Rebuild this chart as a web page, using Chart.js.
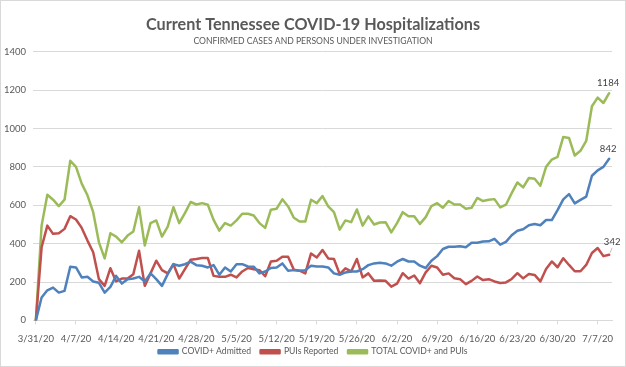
<!DOCTYPE html>
<html>
<head>
<meta charset="utf-8">
<script src="https://cdn.jsdelivr.net/npm/chart.js@4"></script>
<style>
  body { margin: 0; background: #fff; }
  #wrap { width: 624px; height: 365px; border: 1px solid #d9d9d9; position: relative; }
</style>
</head>
<body>
<div id="wrap"><canvas id="chart"></canvas></div>
<script>
// days from 3/31/20 to 7/9/20
const dates = ['3/31/20',
  '4/1/20','4/2/20','4/3/20','4/4/20','4/5/20','4/6/20','4/7/20','4/8/20','4/9/20','4/10/20',
  '4/11/20','4/12/20','4/13/20','4/14/20','4/15/20','4/16/20','4/17/20','4/18/20','4/19/20','4/20/20',
  '4/21/20','4/22/20','4/23/20','4/24/20','4/25/20','4/26/20','4/27/20','4/28/20','4/29/20','4/30/20',
  '5/1/20','5/2/20','5/3/20','5/4/20','5/5/20','5/6/20','5/7/20','5/8/20','5/9/20','5/10/20',
  '5/11/20','5/12/20','5/13/20','5/14/20','5/15/20','5/16/20','5/17/20','5/18/20','5/19/20','5/20/20',
  '5/21/20','5/22/20','5/23/20','5/24/20','5/25/20','5/26/20','5/27/20','5/28/20','5/29/20','5/30/20','5/31/20',
  '6/1/20','6/2/20','6/3/20','6/4/20','6/5/20','6/6/20','6/7/20','6/8/20','6/9/20','6/10/20',
  '6/11/20','6/12/20','6/13/20','6/14/20','6/15/20','6/16/20','6/17/20','6/18/20','6/19/20','6/20/20',
  '6/21/20','6/22/20','6/23/20','6/24/20','6/25/20','6/26/20','6/27/20','6/28/20','6/29/20','6/30/20',
  '7/1/20','7/2/20','7/3/20','7/4/20','7/5/20','7/6/20','7/7/20','7/8/20','7/9/20'];

const admitted = [0,119,157,171,145,154,280,276,224,227,
  203,196,145,175,232,192,215,218,227,203,
  245,215,180,241,293,285,293,306,288,285,
  276,288,238,276,255,293,293,281,280,245,
  255,273,276,297,259,262,259,262,285,281,
  281,276,245,238,250,255,255,267,288,297,
  300,297,285,306,320,307,307,285,273,311,
  335,372,384,384,386,381,405,405,411,412,
  425,395,409,444,467,475,496,502,496,523,
  523,575,631,658,610,628,645,754,782,800,842];

const puis = [0,381,494,451,454,477,543,526,482,416,
  355,215,180,272,203,218,218,241,363,180,
  245,311,262,245,293,218,267,316,320,325,
  325,232,227,227,238,224,255,273,267,262,
  230,307,311,332,332,264,259,245,349,328,
  367,323,320,241,271,255,320,224,245,206,
  208,206,176,192,246,218,234,194,250,285,
  276,238,245,220,215,189,206,229,210,215,
  203,195,198,216,246,219,242,237,203,268,
  307,277,324,289,256,256,289,351,377,335,342];

const total = [0,494,655,629,596,629,832,800,713,652,
  564,407,323,454,437,407,442,463,590,390,
  507,521,437,489,590,507,559,617,604,611,
  603,524,468,507,494,521,556,556,547,507,
  482,577,582,631,594,535,515,515,629,611,
  648,594,564,473,521,512,578,494,542,500,
  510,512,459,507,564,543,543,503,538,596,
  611,587,622,604,604,582,587,638,622,629,
  632,589,603,663,719,693,742,738,702,800,
  838,852,956,951,859,884,935,1116,1161,1133,1184];

const yTicks = [0, 200, 400, 600, 800, 1000, 1200, 1400];

const FONT = 'Lato, "Open Sans", sans-serif';
const GREY = '#595959';

// label on the last point of each line
const endLabels = {
  id: 'endLabels',
  afterDatasetsDraw(chart) {
    const ctx = chart.ctx;
    ctx.save();
    ctx.font = '9.5px ' + FONT;
    ctx.fillStyle = '#404040';
    ctx.textAlign = 'center';
    ctx.textBaseline = 'middle';
    chart.data.datasets.forEach((ds, i) => {
      const meta = chart.getDatasetMeta(i);
      const pt = meta.data[meta.data.length - 1];
      const val = ds.data[ds.data.length - 1];
      if (i === 1) {
        ctx.strokeStyle = '#bfbfbf';
        ctx.lineWidth = 1;
        ctx.beginPath();
        ctx.moveTo(pt.x + 1, pt.y - 2);
        ctx.lineTo(pt.x + 3, pt.y - 7);
        ctx.stroke();
        ctx.fillText(val, pt.x + 3, pt.y - 13);
      } else {
        ctx.fillText(val, pt.x - 1, pt.y - 10);
      }
    });
    ctx.restore();
  }
};

new Chart(document.getElementById('chart'), {
  type: 'line',
  data: {
    labels: dates,
    datasets: [
      { label: 'COVID+ Admitted', data: admitted, borderColor: '#4F81BD', backgroundColor: '#4F81BD' },
      { label: 'PUIs Reported', data: puis, borderColor: '#C0504D', backgroundColor: '#C0504D' },
      { label: 'TOTAL COVID+ and PUIs', data: total, borderColor: '#9BBB59', backgroundColor: '#9BBB59' }
    ]
  },
  options: {
    responsive: true,
    maintainAspectRatio: false,
    animation: false,
    layout: { padding: 0 },
    elements: {
      line: { borderWidth: 2.5, tension: 0, borderCapStyle: 'round', borderJoinStyle: 'round' },
      point: { radius: 0 }
    },
    plugins: {
      title: {
        display: true,
        text: 'Current Tennessee COVID-19 Hospitalizations',
        color: GREY,
        font: { family: FONT, size: 16.2, weight: 'bold' },
        padding: { top: 14, bottom: 2 }
      },
      subtitle: {
        display: true,
        text: 'CONFIRMED CASES AND PERSONS UNDER INVESTIGATION',
        color: GREY,
        font: { family: FONT, size: 8.6 },
        padding: { bottom: 5 }
      },
      legend: {
        position: 'bottom',
        labels: {
          color: GREY,
          font: { family: FONT, size: 8.6 },
          boxWidth: 19,
          boxHeight: 3,
          padding: 3,
          // extra room between items, like the reference
          generateLabels: (chart) => {
            const items = Chart.defaults.plugins.legend.labels.generateLabels(chart);
            items.forEach((it, i) => { if (i < items.length - 1) it.text += '\u00a0\u00a0\u00a0'; });
            return items;
          }
        }
      },
      tooltip: { enabled: false }
    },
    scales: {
      x: {
        offset: true,
        afterFit: (s) => { s.height = 24; },
        grid: {
          drawOnChartArea: false,
          drawTicks: true,
          tickLength: 4,
          color: (c) => (c.index % 7 === 0 ? '#d9d9d9' : 'rgba(0,0,0,0)')
        },
        border: { display: true, color: '#d9d9d9' },
        ticks: {
          autoSkip: false,
          maxRotation: 0,
          color: GREY,
          font: { family: FONT, size: 9.5 },
          padding: 9,
          callback: (v, i) => (i % 7 === 0 ? dates[i] : '')
        }
      },
      y: {
        min: 0,
        max: 1400,
        afterBuildTicks: (s) => { s.ticks = yTicks.map(v => ({ value: v })); },
        afterFit: (s) => { s.width = 32; },
        grid: { color: '#d9d9d9', drawTicks: false },
        border: { display: false },
        ticks: {
          color: GREY,
          font: { family: FONT, size: 9.5 },
          padding: 7,
          callback: (v) => String(v)
        }
      },
      // empty right-hand margin so the plot ends where the reference's does
      yRight: {
        position: 'right',
        afterFit: (s) => { s.width = 13; },
        grid: { display: false },
        border: { display: false },
        ticks: { display: false }
      }
    }
  },
  plugins: [endLabels]
});
</script>
</body>
</html>
